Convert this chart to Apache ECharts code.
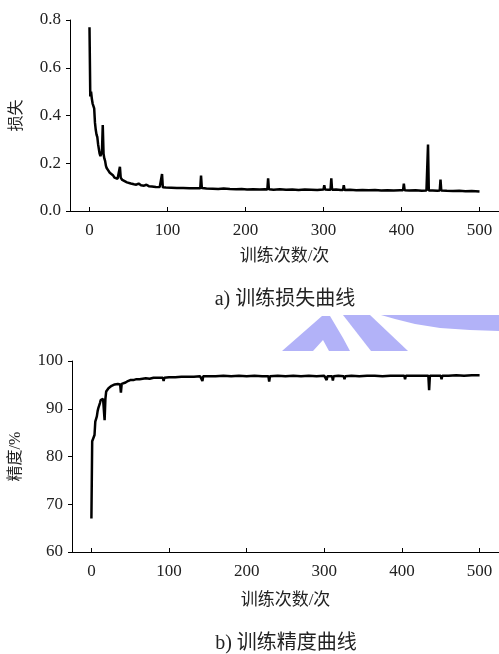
<!DOCTYPE html>
<html>
<head>
<meta charset="utf-8">
<script src="https://cdn.jsdelivr.net/npm/echarts@6.0.0/dist/echarts.min.js"></script>
<style>
  html, body { margin: 0; padding: 0; background: #fff; }
  #chart { width: 499px; height: 654px; }
</style>
</head>
<body>
<div id="chart"></div>
<script>
// training loss (epoch, value)
const lossX = [0,1,2,3,4,5,6,7,8,9,10,11,12,13,14,15,16,17,18,19,20,21,22,24,26,28,30,32,34,36,38,39,40,42,45,48,50,53,55,57,60,63,66,70,73,76,80,85,90,92,93,94,98,105,112,120,128,135,142,143,144,150,158,165,172,180,188,195,202,210,218,225,228,229,230,236,244,252,260,268,276,284,292,300,301,302,306,309,310,311,316,322,325,326,327,334,342,350,358,366,374,382,390,398,402,403,404,410,418,426,432,433,434,435,440,446,449,450,451,458,466,474,482,490,500];
const lossY = [0.77,0.48,0.50,0.47,0.45,0.45,0.43,0.37,0.34,0.32,0.31,0.28,0.26,0.24,0.23,0.24,0.25,0.36,0.24,0.22,0.21,0.19,0.18,0.17,0.16,0.155,0.15,0.14,0.14,0.135,0.14,0.185,0.14,0.13,0.125,0.12,0.118,0.115,0.12,0.112,0.11,0.115,0.108,0.106,0.11,0.104,0.103,0.101,0.100,0.099,0.155,0.099,0.098,0.097,0.096,0.096,0.095,0.095,0.095,0.148,0.096,0.094,0.093,0.092,0.094,0.092,0.091,0.092,0.090,0.091,0.090,0.091,0.090,0.137,0.091,0.089,0.091,0.089,0.090,0.088,0.090,0.089,0.088,0.090,0.108,0.090,0.089,0.089,0.137,0.089,0.090,0.088,0.088,0.108,0.088,0.089,0.087,0.088,0.087,0.088,0.086,0.087,0.086,0.087,0.087,0.115,0.087,0.086,0.087,0.085,0.086,0.086,0.278,0.086,0.086,0.085,0.086,0.132,0.086,0.085,0.084,0.085,0.083,0.084,0.082];

// training accuracy (epoch, %)
const accX = [0,1,2,3,4,5,6,7,8,9,10,11,12,13,14,15,16,17,18,19,20,22,24,26,28,30,32,34,36,37,38,39,41,44,47,50,54,58,62,66,70,75,80,86,92,93,94,100,108,116,124,132,140,142,143,144,152,160,170,180,190,200,210,220,228,229,230,240,250,260,270,280,290,300,302,303,304,310,311,312,318,325,326,327,335,345,355,365,375,385,395,403,404,405,415,425,434,435,436,445,450,451,452,460,470,480,490,500];
const accY = [67.0,83.2,83.0,83.5,84.5,87.3,87.0,88.4,89.5,90.2,90.0,91.2,91.8,92.0,91.8,92.1,92.0,87.6,92.0,93.6,93.9,94.3,94.6,94.8,95.0,95.1,95.0,95.2,95.2,95.1,93.4,95.2,95.4,95.5,95.8,96.0,96.0,96.2,96.2,96.3,96.4,96.3,96.5,96.5,96.5,95.8,96.5,96.6,96.6,96.7,96.7,96.7,96.8,96.8,95.8,96.8,96.8,96.8,96.9,96.8,96.9,96.8,96.9,96.8,96.8,95.7,96.8,96.9,96.8,96.9,96.8,96.9,96.8,96.9,96.8,96.0,96.8,96.8,95.9,96.8,96.9,96.8,96.2,96.8,96.9,96.8,96.9,96.9,96.8,96.9,96.9,96.9,96.2,96.9,96.9,96.9,96.9,93.9,96.9,96.9,96.9,96.2,96.9,96.9,97.0,96.9,97.0,97.0];

const xTicks = [0, 100, 200, 300, 400, 500];
const lossTicks = [0, 0.2, 0.4, 0.6, 0.8];
const accTicks = [60, 70, 80, 90, 100];

const FONT = "'Liberation Serif', 'Noto Sans CJK SC', serif";
const TXT = '#222';
const WM = '#b2b2f8';

function xAxisCfg(grid, name, gap) {
  return {
    gridIndex: grid, type: 'value', min: -25, max: 525,
    name: name, nameLocation: 'middle', nameGap: gap,
    nameTextStyle: { fontFamily: FONT, fontSize: 17, color: TXT },
    axisLine: { show: true, onZero: false, lineStyle: { color: '#000', width: 1 } },
    axisTick: { show: true, inside: true, length: 4, customValues: xTicks, lineStyle: { color: '#000' } },
    axisLabel: { customValues: xTicks, margin: 11, fontFamily: FONT, fontSize: 17, color: TXT },
    splitLine: { show: false }
  };
}

function yAxisCfg(grid, min, max, ticks, name, gap, fmt) {
  return {
    gridIndex: grid, type: 'value', min: min, max: max,
    name: name, nameLocation: 'middle', nameGap: gap,
    nameTextStyle: { fontFamily: FONT, fontSize: 16, color: TXT },
    axisLine: { show: true, onZero: false, lineStyle: { color: '#000', width: 1 } },
    axisTick: { show: true, inside: false, length: 4, customValues: ticks, lineStyle: { color: '#000' } },
    axisLabel: { customValues: ticks, margin: 9, fontFamily: FONT, fontSize: 17, color: TXT, formatter: fmt },
    splitLine: { show: false }
  };
}

function pairs(xs, ys) { return xs.map((x, i) => [x, ys[i]]); }

const chart = echarts.init(document.getElementById('chart'), null, { renderer: 'canvas' });

chart.setOption({
  animation: false,
  backgroundColor: '#fff',
  grid: [
    { left: 70, top: 20, width: 430, height: 191, containLabel: false },
    { left: 72, top: 361, width: 430, height: 191, containLabel: false }
  ],
  xAxis: [
    xAxisCfg(0, '训练次数/次', 37),
    xAxisCfg(1, '训练次数/次', 40)
  ],
  yAxis: [
    yAxisCfg(0, 0, 0.8, lossTicks, '损失', 45, v => v.toFixed(1)),
    yAxisCfg(1, 60, 100, accTicks, '精度/%', 48, v => String(v))
  ],
  series: [
    {
      type: 'line', xAxisIndex: 0, yAxisIndex: 0, data: pairs(lossX, lossY),
      showSymbol: false, lineStyle: { color: '#000', width: 2.5 }
    },
    {
      type: 'line', xAxisIndex: 1, yAxisIndex: 1, data: pairs(accX, accY),
      showSymbol: false, lineStyle: { color: '#000', width: 2.5 }
    }
  ],
  graphic: [
    { type: 'text', style: { text: 'a) 训练损失曲线', x: 285, y: 300, align: 'center', verticalAlign: 'middle', font: '20px ' + FONT, fill: TXT } },
    { type: 'text', style: { text: 'b) 训练精度曲线', x: 286, y: 644, align: 'center', verticalAlign: 'middle', font: '20px ' + FONT, fill: TXT } },
    // watermark fragment between the two panels
    { type: 'polygon', silent: true, z: -1, shape: { points: [[282,351],[322,316],[330,316],[343,338],[350,351],[329,351],[323,340],[313,351]] }, style: { fill: WM } },
    { type: 'polygon', silent: true, z: -1, shape: { points: [[343,315],[370,315],[408,351],[371,351]] }, style: { fill: WM } },
    { type: 'polygon', silent: true, z: -1, shape: { points: [[381,315],[499,315],[499,331],[470,330],[440,328],[415,324],[395,319]] }, style: { fill: WM } }
  ]
});
</script>
</body>
</html>
